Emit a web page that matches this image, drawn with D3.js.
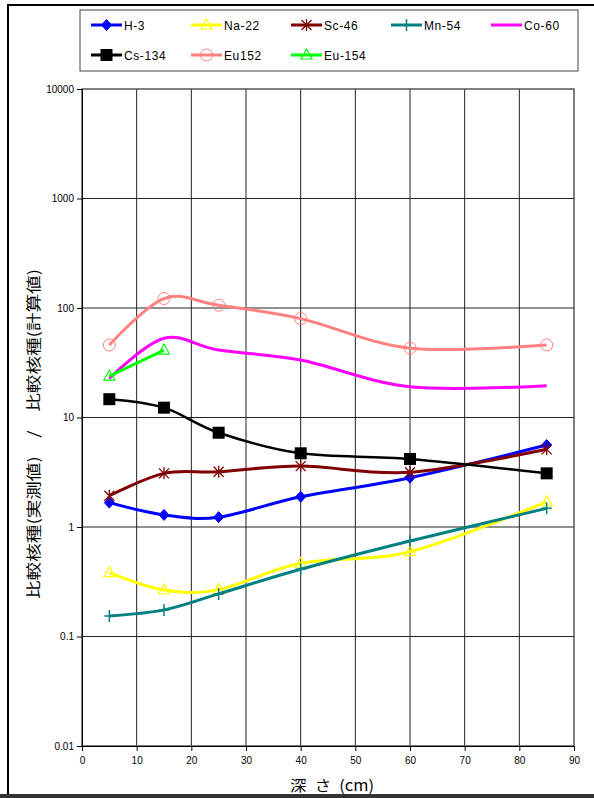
<!DOCTYPE html>
<html>
<head>
<meta charset="utf-8">
<script src="https://cdn.jsdelivr.net/npm/d3@7"></script>
<style>
  html, body { margin: 0; padding: 0; background: #fff; }
  svg { display: block; }
</style>
</head>
<body>
<svg id="chart" width="594" height="798"></svg>
<script>
// Sampling depths (cm)
const depths = [5, 15, 25, 40, 60, 85];

// Ratio values per nuclide at each depth
const h3    = [1.67, 1.29, 1.23, 1.89, 2.82, 5.6];
const na22  = [0.383, 0.266, 0.268, 0.466, 0.595, 1.70];
const sc46  = [1.93, 3.09, 3.2, 3.6, 3.16, 5.12];
const mn54  = [0.154, 0.175, 0.245, 0.411, 0.745, 1.48];
const co60  = [22.8, 52.9, 41.3, 33.5, 19.1, 19.5];
const cs134 = [14.7, 12.3, 7.26, 4.71, 4.18, 3.09];
const eu152 = [45.9, 122, 106, 80, 43, 46];
const eu154 = [23.9, 41.3];

const seriesNames  = ["H-3", "Na-22", "Sc-46", "Mn-54", "Co-60", "Cs-134", "Eu152", "Eu-154"];
const seriesValues = [h3, na22, sc46, mn54, co60, cs134, eu152, eu154];
const seriesColors = ["#0000ff", "#ffff00", "#800000", "#008080", "#ff00ff", "#000000", "#ff8080", "#00ff00"];
const seriesMarks  = ["diamond", "triangle", "asterisk", "plus", "none", "square", "circle", "triangle"];

const xTicks = [0, 10, 20, 30, 40, 50, 60, 70, 80, 90];
const yTicks = [0.01, 0.1, 1, 10, 100, 1000, 10000];
const yTickLabels = ["0.01", "0.1", "1", "10", "100", "1000", "10000"];

const xTitle = "深\u2002さ\u2002(cm)";
const yTitle = "比較核種(実測値)\u3000/\u3000比較核種(計算値)";

const svg = d3.select("#chart");
const plot = { left: 82, right: 574, top: 89, bottom: 746 };

const x = d3.scaleLinear().domain([0, 90]).range([plot.left, plot.right]);
const y = d3.scaleLog().domain([0.01, 10000]).range([plot.bottom, plot.top]);

// Outer frame
svg.append("rect")
  .attr("x", 8).attr("y", 5).attr("width", 600).attr("height", 790)
  .attr("fill", "none").attr("stroke", "#000").attr("stroke-width", 2);
svg.append("line")
  .attr("x1", 0).attr("x2", 594).attr("y1", 796).attr("y2", 796)
  .attr("stroke", "#333").attr("stroke-width", 4);

// Gridlines
const grid = svg.append("g");
grid.selectAll("line.v").data(xTicks.slice(1, -1)).join("line")
  .attr("x1", d => x(d)).attr("x2", d => x(d))
  .attr("y1", plot.top).attr("y2", plot.bottom)
  .attr("stroke", "#222").attr("stroke-width", 1);
grid.selectAll("line.h").data(yTicks.slice(1, -1)).join("line")
  .attr("x1", plot.left).attr("x2", plot.right)
  .attr("y1", d => y(d)).attr("y2", d => y(d))
  .attr("stroke", "#222").attr("stroke-width", 1);

// Plot frame
svg.append("rect")
  .attr("x", plot.left).attr("y", plot.top)
  .attr("width", plot.right - plot.left).attr("height", plot.bottom - plot.top)
  .attr("fill", "none").attr("stroke", "#555").attr("stroke-width", 1.5);

// Axes
const xAxis = svg.append("g")
  .attr("transform", `translate(0,${plot.bottom})`)
  .call(d3.axisBottom(x).tickValues(xTicks).tickSize(5).tickPadding(6).tickFormat(d3.format("d")));
const yAxis = svg.append("g")
  .attr("transform", `translate(${plot.left},0)`)
  .call(d3.axisLeft(y).tickValues(yTicks).tickSize(5).tickPadding(3)
    .tickFormat((d, i) => yTickLabels[i]));
[xAxis, yAxis].forEach(a => {
  a.select(".domain").attr("stroke", "#000");
  a.selectAll(".tick line").attr("stroke", "#000");
  a.selectAll("text").attr("fill", "#000")
    .style("font-family", "'Liberation Sans', Arial, sans-serif").style("font-size", "10px");
});

// Axis titles
svg.append("text")
  .attr("x", 332).attr("y", 791)
  .attr("text-anchor", "middle")
  .attr("textLength", 84).attr("lengthAdjust", "spacingAndGlyphs")
  .style("font-family", "'Noto Sans CJK JP', sans-serif").style("font-size", "15px")
  .text(xTitle);
svg.append("text")
  .attr("transform", "translate(39,434) rotate(-90)")
  .attr("text-anchor", "middle")
  .attr("textLength", 330).attr("lengthAdjust", "spacingAndGlyphs")
  .style("font-family", "'Noto Sans CJK JP', sans-serif").style("font-size", "15px")
  .text(yTitle);

// Marker drawing
function drawMarker(g, type, color, cx, cy) {
  switch (type) {
    case "diamond":
      g.append("path").attr("d", `M${cx},${cy - 5.5}L${cx + 5},${cy}L${cx},${cy + 5.5}L${cx - 5},${cy}Z`)
        .attr("fill", color).attr("stroke", color);
      break;
    case "triangle":
      g.append("path").attr("d", `M${cx},${cy - 6}L${cx + 5.5},${cy + 4}L${cx - 5.5},${cy + 4}Z`)
        .attr("fill", "none").attr("stroke", color).attr("stroke-width", 1.2);
      break;
    case "asterisk":
      g.append("path").attr("d",
        `M${cx - 5},${cy - 5}L${cx + 5},${cy + 5}M${cx + 5},${cy - 5}L${cx - 5},${cy + 5}M${cx},${cy - 6}L${cx},${cy + 6}`)
        .attr("stroke", color).attr("stroke-width", 1.3).attr("fill", "none");
      break;
    case "plus":
      g.append("path").attr("d", `M${cx - 5},${cy}L${cx + 5},${cy}M${cx},${cy - 6}L${cx},${cy + 6}`)
        .attr("stroke", color).attr("stroke-width", 1.5).attr("fill", "none");
      break;
    case "square":
      g.append("rect").attr("x", cx - 6).attr("y", cy - 6).attr("width", 12).attr("height", 12)
        .attr("fill", color);
      break;
    case "circle":
      g.append("circle").attr("cx", cx).attr("cy", cy).attr("r", 6)
        .attr("fill", "none").attr("stroke", color).attr("stroke-width", 1);
      break;
  }
}

// Series lines and markers
const line = d3.line()
  .x(d => x(d[0])).y(d => y(d[1]))
  .curve(d3.curveCardinal.tension(0));

seriesValues.forEach((vals, i) => {
  const pts = vals.map((v, j) => [depths[j], v]);
  const g = svg.append("g");
  g.append("path").datum(pts)
    .attr("d", line)
    .attr("fill", "none")
    .attr("stroke", seriesColors[i])
    .attr("stroke-width", i === 5 ? 2.5 : 3)
    .attr("stroke-linejoin", "round");
  pts.forEach(p => drawMarker(g, seriesMarks[i], seriesColors[i], x(p[0]), y(p[1])));
});

// Legend
const legend = svg.append("g");
legend.append("rect")
  .attr("x", 80).attr("y", 10).attr("width", 498).attr("height", 61)
  .attr("fill", "#fff").attr("stroke", "#444").attr("stroke-width", 1);
seriesNames.forEach((name, i) => {
  const col = i % 5, row = Math.floor(i / 5);
  const lx = 91 + col * 100, ly = 25 + row * 30;
  const g = legend.append("g");
  g.append("line").attr("x1", lx).attr("x2", lx + 31).attr("y1", ly).attr("y2", ly)
    .attr("stroke", seriesColors[i]).attr("stroke-width", 3);
  drawMarker(g, seriesMarks[i], seriesColors[i], lx + 15.5, ly);
  g.append("text").attr("x", lx + 33).attr("y", ly + 4.5)
    .style("font-family", "'Liberation Sans', Arial, sans-serif").style("font-size", "12px")
    .style("letter-spacing", "0.6px")
    .text(name);
});
</script>
</body>
</html>
